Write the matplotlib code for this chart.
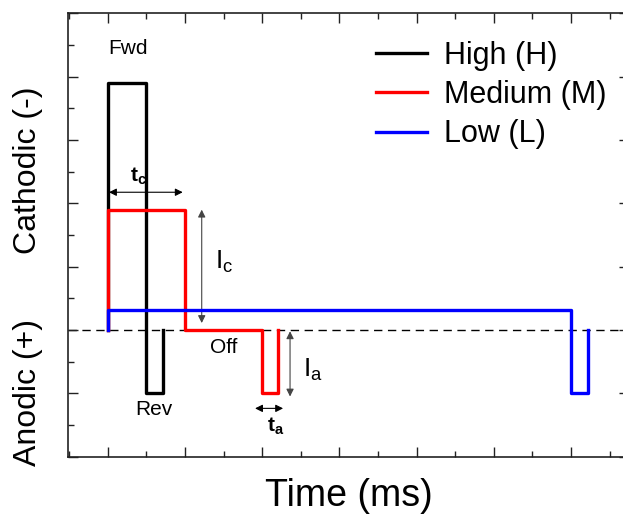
import matplotlib
matplotlib.use('Agg')
import matplotlib.pyplot as plt
from matplotlib.ticker import MultipleLocator

plt.rcParams['font.family'] = ['Liberation Sans', 'DejaVu Sans']
plt.rcParams['mathtext.fontset'] = 'custom'
plt.rcParams['mathtext.rm'] = 'Liberation Sans'
plt.rcParams['mathtext.it'] = 'Liberation Sans:italic'
plt.rcParams['mathtext.bf'] = 'Liberation Sans:bold'

# pulse waveforms (time in ms, current in arbitrary units)
time_h = [0, 0, 0.5, 0.5, 0.72, 0.72]
curr_h = [0, 3.9, 3.9, -1, -1, 0]

time_m = [0, 0, 1, 1, 2, 2, 2.2, 2.2]
curr_m = [0, 1.9, 1.9, 0, 0, -1, -1, 0]

time_l = [0, 0, 6, 6, 6.22, 6.22]
curr_l = [0, 0.32, 0.32, -1, -1, 0]

labels = ['High (H)', 'Medium (M)', 'Low (L)']
colors = ['black', '#ff0000', '#0000ff']

W, H = 623, 514
fig = plt.figure(figsize=(W / 100, H / 100), dpi=100)
# right spine sits just outside the picture, as in the original
ax = fig.add_axes([68.3 / W, 1 - 456.7 / H, (629 - 68.3) / W, (456.7 - 13.3) / H])

ax.axhline(0, color='black', lw=1.0, dashes=(6, 4), zorder=1)

lh, = ax.plot(time_h, curr_h, color=colors[0], lw=2.4, zorder=2, label=labels[0])
lm, = ax.plot(time_m, curr_m, color=colors[1], lw=2.4, zorder=3, label=labels[1])
ll, = ax.plot(time_l, curr_l, color=colors[2], lw=2.4, zorder=4, label=labels[2])

ax.set_xlim(-0.512, 6.75)
ax.set_ylim(-2, 5)
ax.xaxis.set_major_locator(MultipleLocator(1))
ax.xaxis.set_minor_locator(MultipleLocator(0.5))
ax.yaxis.set_major_locator(MultipleLocator(1))
ax.yaxis.set_minor_locator(MultipleLocator(0.5))
ax.tick_params(which='both', direction='in', top=True, right=True,
               labelbottom=False, labelleft=False, color='#222222', width=1.0)
ax.tick_params(which='major', length=7.5)
ax.tick_params(which='minor', length=4.3)
for s in ax.spines.values():
    s.set_linewidth(1.2)
    s.set_color('#222222')

# arrows
arr = dict(arrowstyle='<|-|>', color='black', lw=0.8, mutation_scale=11,
           shrinkA=0, shrinkB=0)
ax.annotate('', xy=(0.015, 2.175), xytext=(0.97, 2.175), arrowprops=arr)
ax.annotate('', xy=(1.907, -1.237), xytext=(2.27, -1.237), arrowprops=arr)
arr_g = dict(arr, color='#444444')
ax.annotate('', xy=(1.216, 1.9), xytext=(1.216, 0.11), arrowprops=arr_g)
ax.annotate('', xy=(2.36, -0.02), xytext=(2.36, -1.05), arrowprops=arr_g)

# annotations
ax.text(0.0, 4.45, 'Fwd', fontsize=15, ha='left', va='center')
ax.text(0.6, -1.26, 'Rev', fontsize=15, ha='center', va='center')
ax.text(1.495, -0.27, 'Off', fontsize=15, ha='center', va='center')
ax.text(0.29, 2.43, r'$\mathbf{t_c}$', fontsize=15, ha='left', va='center')
ax.text(2.06, -1.52, r'$\mathbf{t_a}$', fontsize=15, ha='left', va='center')
ax.text(1.389, 1.074, r'$\mathrm{I_c}$', fontsize=19, ha='left', va='center')
ax.text(2.53, -0.63, r'$\mathrm{I_a}$', fontsize=19, ha='left', va='center')

ax.legend(handles=[lh, lm, ll], loc='upper left', frameon=False, fontsize=22,
          bbox_to_anchor=(376 / W, 1 - 41 / H), bbox_transform=fig.transFigure,
          borderpad=0, borderaxespad=0, handlelength=1.67, handletextpad=0.57,
          labelspacing=0.3)

fig.text(348.6 / W, 1 - 496 / H, 'Time (ms)', fontsize=27, ha='center', va='center')
fig.text(28 / W, 1 - 170 / H, 'Cathodic (-)', fontsize=23, rotation=90,
         ha='center', va='center')
fig.text(28 / W, 1 - 392.5 / H, 'Anodic (+)', fontsize=23, rotation=90,
         ha='center', va='center')

fig.savefig('out.png', dpi=100)
